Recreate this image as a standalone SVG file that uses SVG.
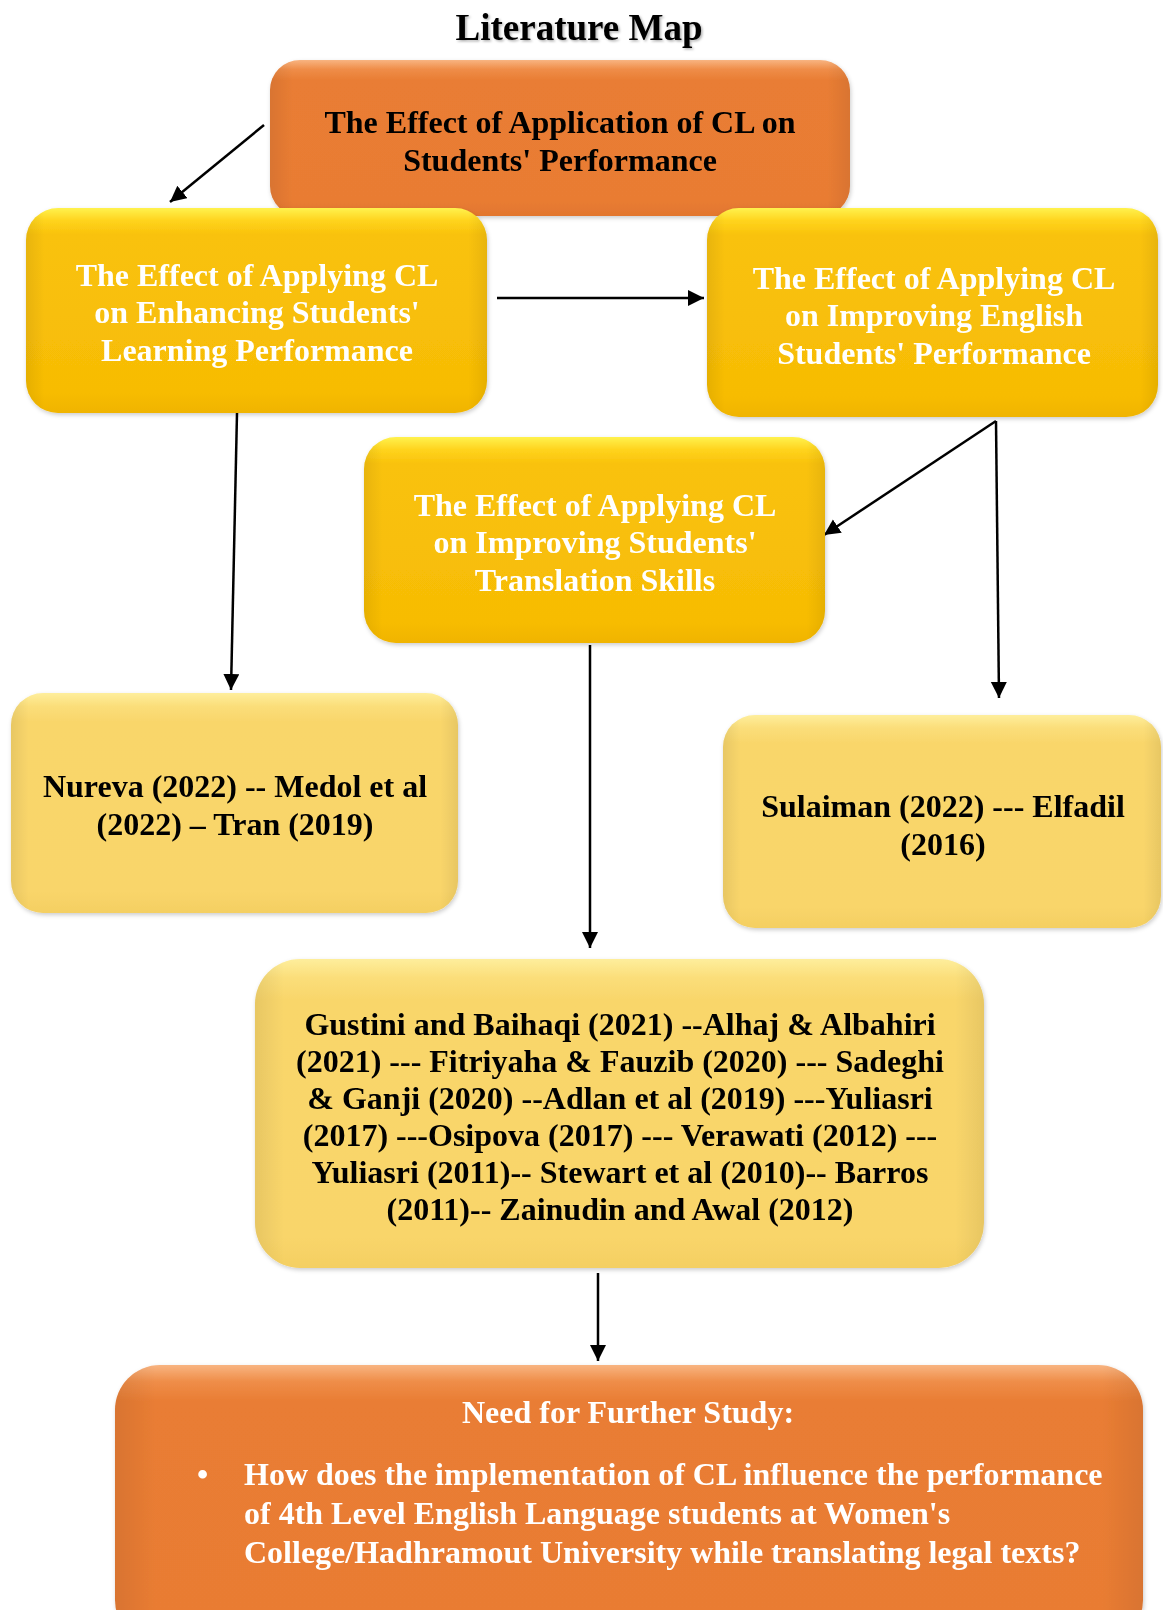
<svg xmlns="http://www.w3.org/2000/svg" width="1163" height="1610" viewBox="0 0 1163 1610">
  <style>
    .t { font-family: "Liberation Serif", "Times New Roman", serif; font-weight: bold; font-size: 32px; }
    .c { text-anchor: middle; }
    .w { fill: #ffffff; }
    .k { fill: #000000; }
    .title { font-family: "Liberation Serif", "Times New Roman", serif; font-weight: bold; font-size: 37px; text-anchor: middle; fill: #000; }
    .edge { fill: none; stroke: #000; stroke-width: 2.5; marker-end: url(#arrow); }
    .side { fill: url(#sideShade); }
  </style>
  <defs>
    <linearGradient id="orangeFill" x1="0" y1="0" x2="0" y2="1">
      <stop offset="0" stop-color="#F8B481"/>
      <stop offset="0.06" stop-color="#EF8D48"/>
      <stop offset="0.13" stop-color="#E97D34"/>
      <stop offset="0.9" stop-color="#E97C33"/>
      <stop offset="1" stop-color="#E2762E"/>
    </linearGradient>
    <linearGradient id="yellowFill" x1="0" y1="0" x2="0" y2="1">
      <stop offset="0" stop-color="#FFF24E"/>
      <stop offset="0.06" stop-color="#FFD41E"/>
      <stop offset="0.13" stop-color="#F9C20B"/>
      <stop offset="0.9" stop-color="#F7BC05"/>
      <stop offset="1" stop-color="#F0B400"/>
    </linearGradient>
    <linearGradient id="paleFill" x1="0" y1="0" x2="0" y2="1">
      <stop offset="0" stop-color="#FEEE9C"/>
      <stop offset="0.06" stop-color="#FBDE7A"/>
      <stop offset="0.13" stop-color="#F9D66B"/>
      <stop offset="0.9" stop-color="#F9D56A"/>
      <stop offset="1" stop-color="#F4CF62"/>
    </linearGradient>
    <linearGradient id="sideShade" x1="0" y1="0" x2="1" y2="0">
      <stop offset="0" stop-color="#000" stop-opacity="0.07"/>
      <stop offset="0.04" stop-color="#000" stop-opacity="0"/>
      <stop offset="0.96" stop-color="#000" stop-opacity="0"/>
      <stop offset="1" stop-color="#000" stop-opacity="0.07"/>
    </linearGradient>
    <filter id="boxShadow" x="-5%" y="-5%" width="110%" height="115%">
      <feDropShadow dx="1" dy="2" stdDeviation="2" flood-color="#000" flood-opacity="0.2"/>
    </filter>
    <filter id="textShadow" x="-5%" y="-20%" width="110%" height="140%">
      <feDropShadow dx="1.5" dy="1.5" stdDeviation="1" flood-color="#000" flood-opacity="0.3"/>
    </filter>
    <marker id="arrow" markerUnits="userSpaceOnUse" markerWidth="17" markerHeight="17" refX="16" refY="8" orient="auto">
      <path d="M0,0 L16,8 L0,16 z" fill="#000"/>
    </marker>
  </defs>

  <rect width="1163" height="1610" fill="#ffffff"/>

  <text class="title" x="579" y="40" filter="url(#textShadow)">Literature Map</text>

  <!-- connectors -->
  <g id="connectors">
    <line class="edge" x1="264" y1="125" x2="170" y2="202"/>
    <line class="edge" x1="497" y1="298" x2="704" y2="298"/>
    <line class="edge" x1="237" y1="413" x2="231" y2="690"/>
    <line class="edge" x1="996" y1="421" x2="824" y2="535"/>
    <line class="edge" x1="996" y1="421" x2="999" y2="698"/>
    <line class="edge" x1="590" y1="645" x2="590" y2="948"/>
    <line class="edge" x1="598" y1="1273" x2="598" y2="1361"/>
  </g>

  <!-- top topic -->
  <g id="node-topic" filter="url(#boxShadow)">
    <rect x="270" y="60" width="580" height="156" rx="30" fill="url(#orangeFill)"/>
    <rect class="side" x="270" y="60" width="580" height="156" rx="30"/>
    <text class="t c k" x="560" y="132.5">The Effect of Application of CL on</text>
    <text class="t c k" x="560" y="170.5">Students' Performance</text>
  </g>

  <g id="node-learning" filter="url(#boxShadow)">
    <rect x="26" y="208" width="461" height="205" rx="32" fill="url(#yellowFill)"/>
    <rect class="side" x="26" y="208" width="461" height="205" rx="32"/>
    <text class="t c w" x="257" y="285.5">The Effect of Applying CL</text>
    <text class="t c w" x="257" y="322.5">on Enhancing Students'</text>
    <text class="t c w" x="257" y="360.5">Learning Performance</text>
  </g>

  <g id="node-english" filter="url(#boxShadow)">
    <rect x="707" y="208" width="451" height="209" rx="32" fill="url(#yellowFill)"/>
    <rect class="side" x="707" y="208" width="451" height="209" rx="32"/>
    <text class="t c w" x="934" y="288.5">The Effect of Applying CL</text>
    <text class="t c w" x="934" y="325.5">on Improving English</text>
    <text class="t c w" x="934" y="363.5">Students' Performance</text>
  </g>

  <g id="node-translation" filter="url(#boxShadow)">
    <rect x="364" y="437" width="461" height="206" rx="32" fill="url(#yellowFill)"/>
    <rect class="side" x="364" y="437" width="461" height="206" rx="32"/>
    <text class="t c w" x="595" y="515.5">The Effect of Applying CL</text>
    <text class="t c w" x="595" y="552.5">on Improving Students'</text>
    <text class="t c w" x="595" y="590.5">Translation Skills</text>
  </g>

  <g id="node-refs-learning" filter="url(#boxShadow)">
    <rect x="11" y="693" width="447" height="220" rx="32" fill="url(#paleFill)"/>
    <rect class="side" x="11" y="693" width="447" height="220" rx="32"/>
    <text class="t c k" x="235" y="796.5">Nureva (2022) -- Medol et al</text>
    <text class="t c k" x="235" y="834.5">(2022) – Tran (2019)</text>
  </g>

  <g id="node-refs-english" filter="url(#boxShadow)">
    <rect x="723" y="715" width="438" height="213" rx="32" fill="url(#paleFill)"/>
    <rect class="side" x="723" y="715" width="438" height="213" rx="32"/>
    <text class="t c k" x="943" y="816.5">Sulaiman (2022) --- Elfadil</text>
    <text class="t c k" x="943" y="854.5">(2016)</text>
  </g>

  <g id="node-refs-translation" filter="url(#boxShadow)">
    <rect x="255" y="959" width="729" height="309" rx="45" fill="url(#paleFill)"/>
    <rect class="side" x="255" y="959" width="729" height="309" rx="45"/>
    <text class="t c k" x="620" y="1034.5">Gustini and Baihaqi (2021) --Alhaj &amp; Albahiri</text>
    <text class="t c k" x="620" y="1071.5">(2021) --- Fitriyaha &amp; Fauzib (2020) --- Sadeghi</text>
    <text class="t c k" x="620" y="1108.5">&amp; Ganji (2020) --Adlan et al (2019) ---Yuliasri</text>
    <text class="t c k" x="620" y="1145.5">(2017) ---Osipova (2017) --- Verawati (2012) ---</text>
    <text class="t c k" x="620" y="1182.5">Yuliasri (2011)-- Stewart et al (2010)-- Barros</text>
    <text class="t c k" x="620" y="1219.5">(2011)-- Zainudin and Awal (2012)</text>
  </g>

  <g id="node-further-study" filter="url(#boxShadow)">
    <rect x="115" y="1365" width="1028" height="280" rx="45" fill="url(#orangeFill)"/>
    <rect class="side" x="115" y="1365" width="1028" height="280" rx="45"/>
    <text class="t c w" x="628" y="1422.5">Need for Further Study:</text>
    <text class="t w" x="197" y="1484.5">•</text>
    <text class="t w" x="244" y="1484.5">How does the implementation of CL influence the performance</text>
    <text class="t w" x="244" y="1523.5">of 4th Level English Language students at Women's</text>
    <text class="t w" x="244" y="1562.5">College/Hadhramout University while translating legal texts?</text>
  </g>
</svg>
